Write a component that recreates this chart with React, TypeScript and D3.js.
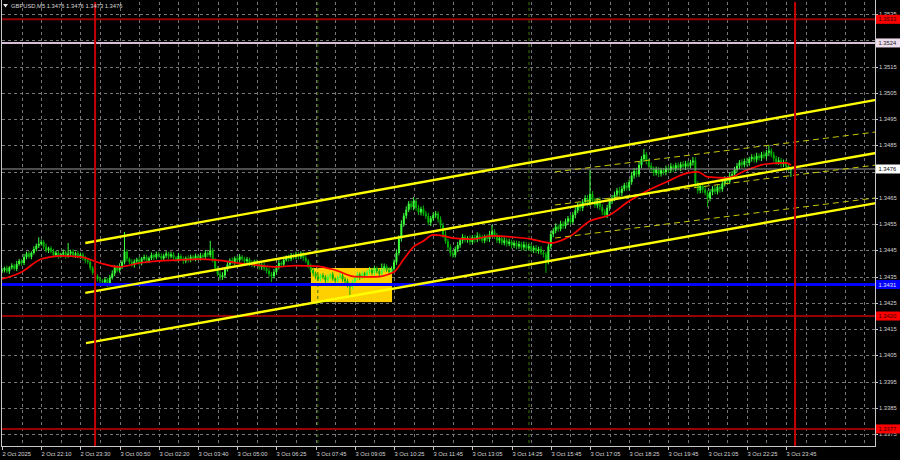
import React from "react";
import * as d3 from "d3";

const W = 900;
const H = 460;

// price in pips above 1.3400
const BASE = 1.34;
const PIP = 0.0001;
const firstOpen = 37.0;

const closes = [
  37.5, 38.2, 37.0, 38.5, 39.2, 38.0, 39.8, 41.0, 40.2, 42.5,
  43.8, 42.6, 44.0, 45.5, 46.8, 47.5, 48.2, 46.4, 45.0, 45.8,
  44.6, 43.2, 44.1, 42.8, 43.5, 44.2, 42.9, 43.8, 44.5, 43.1,
  43.9, 42.7, 43.4, 42.0, 41.2, 40.6, 38.4, 36.5, 35.2, 34.0,
  33.5, 32.8, 33.9, 32.2, 34.6, 36.2, 38.5, 37.4, 39.0, 40.5,
  44.5, 41.8, 40.6, 39.5, 40.8, 41.5, 40.2, 41.9, 42.5, 41.1,
  42.0, 43.2, 42.4, 43.6, 42.8, 41.9, 43.0, 43.8, 42.7, 43.5,
  42.2, 41.6, 42.9, 41.8, 40.9, 42.1, 41.4, 42.6, 41.8, 42.9,
  42.0, 43.1, 42.5, 44.0, 43.2, 45.0, 41.5, 38.2, 36.0, 34.8,
  35.5, 37.8, 39.6, 41.2, 40.5, 42.0, 41.3, 42.6, 41.8, 40.9,
  41.6, 40.2, 39.5, 40.8, 39.9, 38.6, 39.4, 38.1, 37.2, 36.0,
  35.2, 36.8, 38.5, 40.2, 39.6, 41.4, 42.3, 41.7, 43.1, 42.4,
  43.5, 42.6, 43.8, 42.1, 41.0, 39.2, 37.5, 36.2, 35.0, 34.2,
  35.5, 34.8, 33.6, 34.9, 35.8, 34.2, 33.5, 34.6, 35.4, 34.0,
  33.2, 32.0, 31.2, 33.0, 34.5, 35.8, 34.9, 36.2, 35.5, 36.8,
  37.5, 36.4, 38.2, 37.0, 36.1, 37.8, 38.9, 37.6, 36.8, 38.0,
  40.5, 44.0, 49.5, 55.0, 58.2, 60.5, 62.8, 61.5, 63.8, 61.2,
  59.5, 60.8, 59.0, 58.1, 55.6, 57.2, 58.4, 59.0, 56.8, 54.5,
  51.0, 48.5, 46.2, 44.0, 43.2, 45.5, 47.0, 48.8, 50.1, 48.9,
  49.5, 48.2, 50.0, 49.1, 50.6, 49.8, 48.7, 50.2, 49.4, 51.0,
  52.2, 50.5, 48.8, 49.6, 47.9, 48.8, 47.5, 48.3, 46.9, 47.8,
  46.5, 47.4, 46.1, 47.2, 45.8, 46.6, 45.2, 46.0, 44.8, 45.5,
  44.2, 43.5, 40.8, 46.5, 51.2, 52.5, 54.0, 53.2, 55.1, 54.3,
  56.0, 57.2, 55.8, 58.5, 60.2, 62.0, 61.1, 63.5, 64.8, 63.0,
  66.5, 63.8, 62.2, 64.0, 61.5, 59.8, 58.5, 61.2, 63.6, 65.0,
  66.2, 67.8, 66.9, 68.5, 69.8, 68.9, 71.0, 73.5, 75.2, 74.0,
  77.5, 79.8, 81.5, 79.0, 77.2, 76.0, 74.5, 75.8, 74.2, 75.5,
  74.8, 76.2, 75.5, 77.0, 76.1, 77.4, 76.5, 77.8, 76.9, 78.1,
  77.2, 78.5, 79.2, 70.5, 67.8, 69.5, 68.2, 66.9, 64.8, 67.2,
  68.5, 67.4, 69.2, 68.3, 70.5, 72.0, 71.2, 73.4, 74.0, 75.8,
  77.2, 78.5, 77.6, 79.0, 78.3, 79.8, 80.5, 79.6, 81.0, 80.2,
  81.5, 80.8, 82.2, 83.0, 81.4, 80.0, 78.6, 79.3, 77.8, 78.5,
  77.2, 76.0, 76.0,
];

// wick extents in tenths of a pip
const wickUp = [
  8, 6, 10, 5, 9, 7, 12, 8, 6, 11,
  7, 9, 6, 10, 8, 25, 9, 7, 12, 6,
  8, 10, 7, 9, 6, 11, 8, 40, 7, 9,
  6, 10, 8, 7, 9, 5, 8, 6, 10, 7,
  9, 6, 8, 7, 10, 12, 8, 9, 11, 7,
  75, 9, 6, 10, 8, 7, 11, 6, 9, 8,
  7, 10, 6, 9, 8, 11, 7, 9, 6, 10,
  8, 6, 11, 7, 9, 6, 10, 8, 7, 9,
  6, 10, 8, 12, 7, 36, 9, 6, 8, 10,
  12, 9, 10, 8, 11, 7, 9, 10, 6, 8,
  9, 7, 10, 6, 8, 11, 7, 9, 6, 10,
  8, 11, 9, 12, 7, 10, 8, 11, 9, 7,
  10, 8, 9, 7, 11, 6, 8, 10, 7, 9,
  6, 9, 8, 10, 7, 9, 6, 8, 11, 7,
  8, 10, 7, 9, 6, 11, 8, 10, 7, 9,
  12, 8, 10, 7, 9, 22, 11, 8, 10, 9,
  10, 14, 12, 15, 11, 13, 10, 12, 15, 9,
  11, 9, 13, 10, 12, 9, 11, 10, 8, 12,
  10, 13, 9, 11, 8, 10, 12, 9, 11, 8,
  9, 12, 8, 10, 13, 9, 11, 8, 10, 14,
  25, 9, 11, 8, 10, 12, 9, 11, 8, 10,
  9, 11, 8, 12, 10, 9, 11, 8, 10, 9,
  11, 8, 10, 14, 12, 10, 13, 9, 12, 10,
  11, 9, 13, 10, 12, 11, 14, 10, 12, 13,
  91, 11, 12, 10, 13, 11, 9, 12, 10, 11,
  12, 10, 13, 11, 9, 12, 10, 14, 11, 13,
  12, 11, 21, 10, 9, 12, 10, 11, 9, 10,
  9, 11, 10, 12, 8, 10, 11, 9, 12, 10,
  11, 10, 14, 12, 9, 11, 10, 13, 9, 11,
  10, 12, 9, 11, 10, 13, 9, 11, 12, 10,
  11, 9, 12, 10, 13, 9, 11, 10, 12, 9,
  10, 12, 11, 18, 9, 11, 10, 12, 9, 11,
  10, 8, 0,
];

const wickDown = [
  7, 9, 6, 10, 8, 7, 9, 6, 11, 8,
  9, 7, 10, 6, 8, 9, 7, 11, 8, 10,
  7, 9, 8, 10, 6, 8, 11, 7, 9, 8,
  10, 7, 9, 8, 11, 9, 10, 8, 12, 9,
  11, 10, 8, 12, 9, 7, 10, 8, 9, 11,
  8, 10, 9, 7, 11, 8, 10, 9, 7, 10,
  9, 7, 10, 8, 6, 10, 8, 9, 11, 7,
  10, 8, 9, 7, 11, 8, 10, 9, 7, 10,
  8, 9, 7, 10, 8, 9, 11, 10, 9, 12,
  10, 8, 9, 11, 7, 10, 8, 9, 10, 8,
  9, 11, 8, 10, 7, 9, 11, 8, 10, 12,
  22, 9, 10, 8, 11, 9, 7, 10, 8, 9,
  8, 10, 9, 11, 8, 10, 9, 11, 10, 8,
  10, 8, 11, 9, 10, 8, 12, 9, 8, 10,
  9, 11, 32, 10, 8, 9, 11, 8, 10, 9,
  10, 9, 11, 8, 12, 9, 10, 8, 11, 9,
  8, 10, 9, 12, 10, 11, 9, 10, 12, 11,
  10, 12, 9, 11, 10, 13, 9, 10, 12, 11,
  12, 10, 11, 13, 10, 9, 11, 10, 12, 9,
  10, 11, 9, 12, 10, 11, 9, 10, 11, 12,
  9, 11, 10, 12, 9, 10, 11, 9, 12, 10,
  11, 9, 12, 10, 11, 9, 10, 12, 9, 11,
  10, 12, 44, 11, 9, 12, 10, 11, 9, 12,
  10, 12, 11, 9, 13, 10, 12, 11, 10, 12,
  11, 13, 10, 12, 11, 14, 10, 12, 11, 10,
  12, 10, 11, 13, 10, 12, 11, 10, 12, 11,
  10, 12, 11, 13, 10, 11, 12, 10, 13, 11,
  10, 12, 11, 9, 12, 10, 11, 13, 10, 12,
  11, 10, 12, 14, 12, 11, 13, 10, 33, 11,
  12, 10, 11, 13, 10, 12, 11, 10, 12, 11,
  10, 12, 11, 10, 13, 11, 10, 12, 11, 10,
  12, 10, 11, 13, 10, 12, 11, 10, 12, 11,
  11, 10, 30,
];

// moving average readings (bar index, pips)
const maIdx = [0, 8, 16, 20, 24, 32, 40, 48, 56, 64, 72, 80, 88, 96, 104, 112, 120, 128, 136, 144, 152, 160, 164, 168, 172, 176, 180, 184, 192, 200, 208, 216, 224, 232, 240, 248, 256, 264, 272, 280, 284, 288, 296, 304, 312, 320, 322];
const maVal = [34.1, 36.8, 41.7, 42.5, 42.9, 42.5, 40.2, 38.7, 40.2, 41.0, 41.3, 41.7, 41.3, 40.2, 39.4, 38.7, 39.2, 39.0, 37.5, 35.0, 34.9, 36.8, 41.7, 46.3, 48.6, 50.9, 50.5, 49.7, 49.3, 50.5, 50.1, 49.3, 47.8, 50.5, 56.2, 58.5, 63.8, 68.0, 71.4, 74.5, 74.9, 73.0, 72.6, 75.6, 77.9, 78.3, 77.5];

const timeLabels = [
  "2 Oct 2025", "2 Oct 22:10", "2 Oct 23:30", "3 Oct 00:50", "3 Oct 02:20", "3 Oct 03:40",
  "3 Oct 05:00", "3 Oct 06:25", "3 Oct 07:45", "3 Oct 09:05", "3 Oct 10:25", "3 Oct 11:45",
  "3 Oct 13:05", "3 Oct 14:25", "3 Oct 15:45", "3 Oct 17:05", "3 Oct 18:25", "3 Oct 19:45",
  "3 Oct 21:05", "3 Oct 22:25", "3 Oct 23:45",
];

const priceTicks = [1.3375, 1.3385, 1.3395, 1.3405, 1.3415, 1.3425, 1.3435, 1.3445, 1.3455, 1.3465, 1.3475, 1.3485, 1.3495, 1.3505, 1.3515, 1.3525, 1.3535];

const levels = [
  { price: 1.3533, text: "1.3533", line: "#960000", width: 2, bg: "#ff0000", fg: "#300000" },
  { price: 1.3524, text: "1.3524", line: "#d8bfd8", width: 2, bg: "#ecdcec", fg: "#202020" },
  { price: 1.3476, text: "1.3476", line: "#9a9a9a", width: 1, bg: "#ffffff", fg: "#000000" },
  { price: 1.3432, text: "1.3431", line: "#0000ff", width: 3, bg: "#0000ff", fg: "#e0e0ff" },
  { price: 1.342, text: "1.3420", line: "#960000", width: 2, bg: "#ff0000", fg: "#300000" },
  { price: 1.3377, text: "1.3377", line: "#960000", width: 2, bg: "#ff0000", fg: "#300000" },
];

const channelLines = [
  { i0: 34, p0: 1.34478, i1: 356.7, p1: 1.35023 },
  { i0: 34, p0: 1.34288, i1: 356.7, p1: 1.34821 },
  { i0: 34.3, p0: 1.34097, i1: 356.7, p1: 1.3463 },
];

const regressionLines = [
  { i0: 225.7, p0: 1.34749, i1: 356.7, p1: 1.34901 },
  { i0: 225.7, p0: 1.34623, i1: 356.7, p1: 1.34775 },
  { i0: 225.7, p0: 1.34497, i1: 356.7, p1: 1.3465 },
];

const zoneBox = { i0: 126.1, i1: 159.2, pTop: 1.34383, pBottom: 1.34253 };
const daySeparators = [38, 323.7];
const sessionMarks = [128.9, 215.1];

const FONT = "'Liberation Sans', Arial, sans-serif";

export default function App() {
  const x = d3.scaleLinear().domain([0, 356.73]).range([2, 876]);
  const y = d3.scaleLinear().domain([1.33705, 1.35396]).range([446, 2]);
  const px = (v: number) => BASE + v * PIP;

  const bars = closes.map((c, i) => {
    const o = i === 0 ? firstOpen : closes[i - 1];
    const hi = Math.max(o, c) + wickUp[i] / 10;
    const lo = Math.min(o, c) - wickDown[i] / 10;
    return { i, o, c, hi, lo };
  });

  const maLine = d3
    .line<number>()
    .x((_, k) => x(maIdx[k]))
    .y((v) => y(px(v)))
    .curve(d3.curveMonotoneX)(maVal) as string;

  const vGrid: number[] = [];
  for (let i = 8; x(i) < 875; i += 8) vGrid.push(i);

  const specialYs = levels.map((l) => y(l.price));

  return (
    <svg width={W} height={H} style={{ position: "absolute", left: 0, top: 0, background: "#000" }} fontFamily={FONT}>
      <rect x={0} y={0} width={W} height={H} fill="#000" />
      {/* grid */}
      {priceTicks.map((p) => (
        <line key={"hg" + p} x1={2} x2={875} y1={Math.round(y(p)) + 0.5} y2={Math.round(y(p)) + 0.5} stroke="#767676" strokeDasharray="3,3" strokeWidth={1} />
      ))}
      {vGrid.map((i) => (
        <line key={"vg" + i} x1={Math.round(x(i)) + 0.5} x2={Math.round(x(i)) + 0.5} y1={2} y2={446} stroke="#767676" strokeDasharray="3,3" strokeWidth={1} />
      ))}
      {/* zone box */}
      <rect x={x(zoneBox.i0)} y={y(zoneBox.pTop)} width={x(zoneBox.i1) - x(zoneBox.i0)} height={y(zoneBox.pBottom) - y(zoneBox.pTop)} fill="#ffd000" />
      {/* session markers */}
      {sessionMarks.map((i) => (
        <line key={"sm" + i} x1={x(i)} x2={x(i)} y1={2} y2={446} stroke="#3a7200" strokeDasharray="3,3" strokeWidth={1} />
      ))}
      {/* candles */}
      {bars.map((b) => {
        const cx = x(b.i);
        const bull = b.c >= b.o;
        const col = bull ? "#3cff3c" : "#00b000";
        const yt = y(px(Math.max(b.o, b.c)));
        const yb = y(px(Math.min(b.o, b.c)));
        return (
          <g key={b.i}>
            <line x1={cx} x2={cx} y1={y(px(b.hi))} y2={y(px(b.lo))} stroke={col} strokeWidth={1} />
            <rect x={cx - 1} y={yt} width={2} height={Math.max(1, yb - yt)} fill={col} />
          </g>
        );
      })}
      {/* moving average */}
      <path d={maLine} fill="none" stroke="#ff0000" strokeWidth={1.7} />
      {/* horizontal levels */}
      {levels.map((l) => (
        <line key={"lv" + l.text} x1={2} x2={875} y1={y(l.price)} y2={y(l.price)} stroke={l.line} strokeWidth={l.width} />
      ))}
      {/* regression channel */}
      {regressionLines.map((r, k) => (
        <line key={"rg" + k} x1={x(r.i0)} y1={y(r.p0)} x2={x(r.i1)} y2={y(r.p1)} stroke="#c8c800" strokeWidth={1} strokeDasharray="6,4" />
      ))}
      {/* channel */}
      {channelLines.map((c, k) => (
        <line key={"ch" + k} x1={x(c.i0)} y1={y(c.p0)} x2={x(c.i1)} y2={y(c.p1)} stroke="#ffff00" strokeWidth={2.4} />
      ))}
      {/* day separators */}
      {daySeparators.map((i) => (
        <line key={"ds" + i} x1={x(i)} x2={x(i)} y1={2} y2={446} stroke="#c80000" strokeWidth={2} />
      ))}
      {/* frame */}
      <line x1={1.5} x2={1.5} y1={0} y2={446} stroke="#c8c8c8" />
      <line x1={875.5} x2={875.5} y1={0} y2={447} stroke="#c8c8c8" />
      <line x1={1} x2={876} y1={446.5} y2={446.5} stroke="#c8c8c8" />
      {/* price axis labels */}
      {priceTicks.map((p) => {
        const yy = y(p);
        if (specialYs.some((s) => Math.abs(s - yy) < 5)) return null;
        return (
          <g key={"pl" + p}>
            <line x1={876} x2={878} y1={Math.round(yy) + 0.5} y2={Math.round(yy) + 0.5} stroke="#c8c8c8" />
            <text x={879} y={yy} dy="0.35em" fontSize={5.8} fill="#d4d4d4">{p.toFixed(4)}</text>
          </g>
        );
      })}
      {levels.map((l) => {
        const yy = y(l.price);
        return (
          <g key={"ll" + l.text}>
            <rect x={876} y={yy - 4.5} width={24} height={9} fill={l.bg} />
            <text x={878.5} y={yy} dy="0.35em" fontSize={5.8} fill={l.fg}>{l.text}</text>
          </g>
        );
      })}
      {/* time axis labels */}
      {timeLabels.map((t, k) => {
        const xx = Math.round(x(k * 16)) + 0.5;
        return (
          <g key={"tl" + k}>
            <line x1={xx} x2={xx} y1={446} y2={450} stroke="#c8c8c8" />
            <text x={xx} y={456} fontSize={5.8} fill="#d4d4d4">{t}</text>
          </g>
        );
      })}
      {/* title */}
      <path d="M3,4 L8,4 L5.5,7.5 Z" fill="#e0e0e0" />
      <text x={11} y={8.2} fontSize={5.8} fill="#d8d8d8">GBPUSD,M5  1.3476 1.3476 1.3473 1.3476</text>
    </svg>
  );
}
